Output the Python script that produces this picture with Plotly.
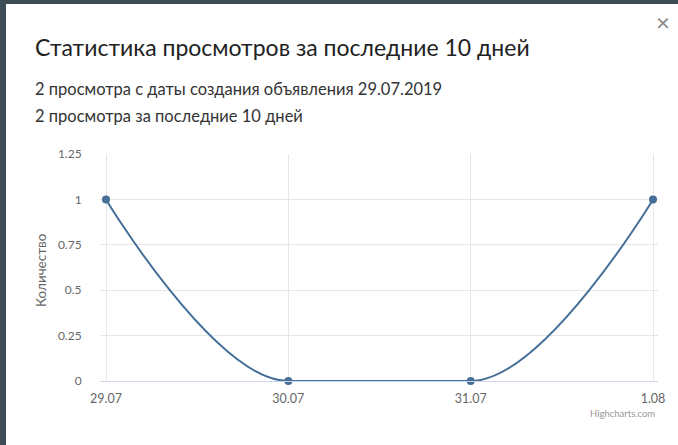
import plotly.graph_objects as go

# ---- data ----
categories = ["29.07", "30.07", "31.07", "1.08"]
views = [1, 0, 0, 1]
y_ticks = [0, 0.25, 0.5, 0.75, 1, 1.25]
y_tick_labels = ["0", "0.25", "0.5", "0.75", "1", "1.25"]

title_text = "Статистика просмотров за последние 10 дней"
line1_text = "2 просмотра с даты создания объявления 29.07.2019"
line2_text = "2 просмотра за последние 10 дней"
y_title = "Количество"
credits = "Highcharts.com"

W, H = 678, 445
ML, MR, MT, MB = 100, 20, 154, 64
PW, PH = W - ML - MR, H - MT - MB

def px(x):
    return (x - ML) / PW

def py(y):
    return (H - MB - y) / PH

LINE = "#456f98"
FONT = "Lato"

xs = list(range(len(categories)))


# Highcharts-style spline path built from the data
def spline_path(xv, yv, smoothing=1.5):
    denom = smoothing + 1
    n = len(xv)
    lc = [None] * n
    rc = [None] * n
    for i in range(1, n - 1):
        lx, ly = xv[i - 1], yv[i - 1]
        nx, ny = xv[i + 1], yv[i + 1]
        x, y = xv[i], yv[i]
        lcx = (smoothing * x + lx) / denom
        lcy = (smoothing * y + ly) / denom
        rcx = (smoothing * x + nx) / denom
        rcy = (smoothing * y + ny) / denom
        if (lcy > y and rcy > y) or (lcy < y and rcy < y):
            lcy = rcy = y
        else:
            corr = (rcy - lcy) * (rcx - x) / (rcx - lcx) + y - rcy
            lcy += corr
            rcy += corr
            if lcy > ly and lcy > y:
                lcy = max(ly, y); rcy = 2 * y - lcy
            elif lcy < ly and lcy < y:
                lcy = min(ly, y); rcy = 2 * y - lcy
            if rcy > ny and rcy > y:
                rcy = max(ny, y); lcy = 2 * y - rcy
            elif rcy < ny and rcy < y:
                rcy = min(ny, y); lcy = 2 * y - rcy
        lc[i] = (lcx, lcy)
        rc[i] = (rcx, rcy)
    p = f"M {xv[0]},{yv[0]}"
    for i in range(1, n):
        c1 = rc[i - 1] if rc[i - 1] else (xv[i - 1], yv[i - 1])
        c2 = lc[i] if lc[i] else (xv[i], yv[i])
        p += f" C {c1[0]},{c1[1]} {c2[0]},{c2[1]} {xv[i]},{yv[i]}"
    return p


fig = go.Figure()
fig.add_trace(go.Scatter(
    x=xs, y=views, mode="markers",
    marker=dict(color=LINE, size=8),
    cliponaxis=False, showlegend=False, hoverinfo="skip",
))

shapes = [
    dict(type="path", xref="x", yref="y", path=spline_path(xs, views),
         line=dict(color=LINE, width=2), layer="above"),
    # backdrop edges behind the dialog
    dict(type="rect", xref="paper", yref="paper", x0=px(0), x1=px(W),
         y0=py(4), y1=py(0), fillcolor="#3d4c55", line=dict(width=0)),
    dict(type="rect", xref="paper", yref="paper", x0=px(0), x1=px(6),
         y0=py(H), y1=py(0), fillcolor="#3d4c55", line=dict(width=0)),
]

annotations = [
    dict(text=title_text, x=px(33), y=py(47), xanchor="left", yanchor="middle",
         font=dict(family=FONT, size=23, color="#222222")),
    dict(text=line1_text, x=px(33), y=py(89), xanchor="left", yanchor="middle",
         font=dict(family=FONT, size=16.5, color="#333333")),
    dict(text=line2_text, x=px(33), y=py(116), xanchor="left", yanchor="middle",
         font=dict(family=FONT, size=16.5, color="#333333")),
    dict(text="×", x=px(663), y=py(22), xanchor="center", yanchor="middle",
         font=dict(family=FONT, size=24, color="#888888")),
    dict(text=y_title, x=px(41), y=py(270), xanchor="center", yanchor="middle",
         textangle=-90, font=dict(family=FONT, size=13.5, color="#666666")),
    dict(text=credits, x=px(657), y=py(413), xanchor="right", yanchor="middle",
         font=dict(family=FONT, size=9.5, color="#999999")),
]
for a in annotations:
    a.update(xref="paper", yref="paper", showarrow=False)

unit = (653 - 106) / 3
fig.update_layout(
    width=W, height=H,
    margin=dict(l=ML, r=MR, t=MT, b=MB, pad=0),
    paper_bgcolor="white", plot_bgcolor="white",
    shapes=shapes, annotations=annotations,
    xaxis=dict(
        range=[-(106 - ML) / unit, 3 + (ML + PW - 653) / unit],
        tickvals=xs, ticktext=categories,
        showgrid=True, gridcolor="#e6e6e6", gridwidth=1,
        zeroline=False, showline=True, linecolor="#ccd6eb", linewidth=1,
        ticks="outside", ticklen=6, tickcolor="rgba(0,0,0,0)",
        tickfont=dict(family=FONT, size=12.5, color="#666666"),
        fixedrange=True,
    ),
    yaxis=dict(
        range=[0, 1.25], tickvals=y_ticks, ticktext=y_tick_labels,
        showgrid=True, gridcolor="#e6e6e6", gridwidth=1,
        zeroline=False, showline=False, ticks="outside", ticklen=15,
        tickcolor="rgba(0,0,0,0)",
        tickfont=dict(family=FONT, size=12, color="#666666"),
        fixedrange=True,
    ),
)

fig.write_html("out.html", config={"displayModeBar": False},
               post_script="document.body.style.margin='0';")
